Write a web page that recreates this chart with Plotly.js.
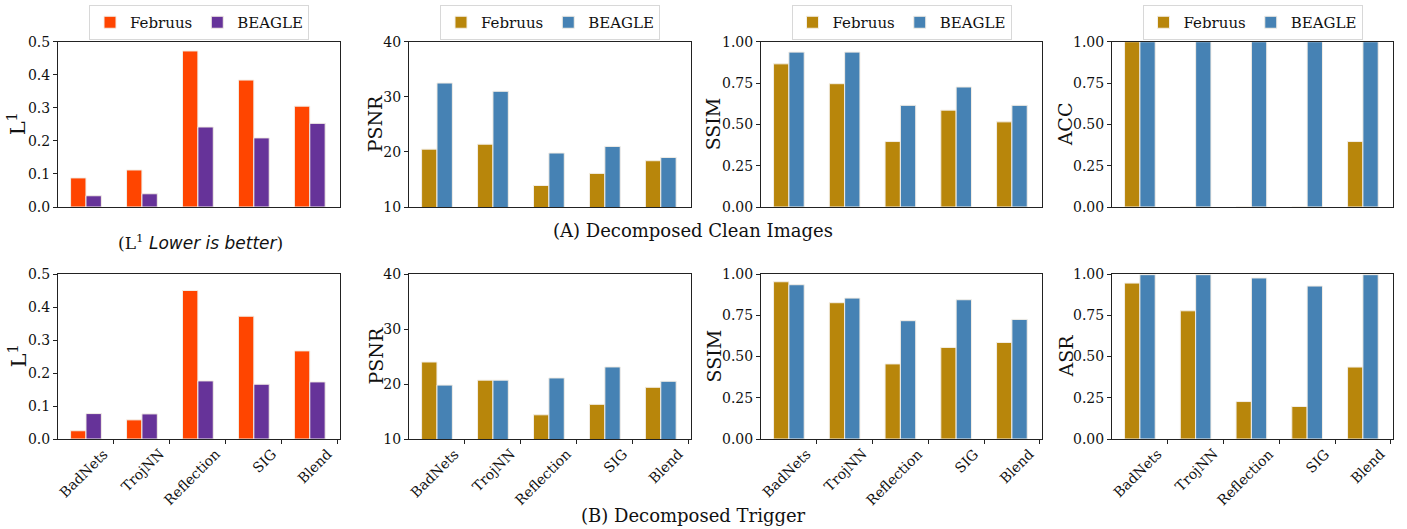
<!DOCTYPE html>
<html><head><meta charset="utf-8">
<script src="https://cdn.plot.ly/plotly-3.0.1.min.js"></script>
<style>html,body{margin:0;padding:0;background:#fff}</style>
</head><body><div id="chart" style="width:1407px;height:529px"></div>
<script>
const categories = ["BadNets", "TrojNN", "Reflection", "SIG", "Blend"];
const methods = ["Februus", "BEAGLE"];
// (A) Decomposed clean images
const cleanL1_Februus = [0.088, 0.112, 0.472, 0.384, 0.305];
const cleanL1_BEAGLE  = [0.034, 0.040, 0.242, 0.209, 0.253];
const cleanPSNR_Februus = [20.5, 21.4, 13.9, 16.1, 18.4];
const cleanPSNR_BEAGLE  = [32.5, 31.0, 19.8, 21.0, 19.0];
const cleanSSIM_Februus = [0.866, 0.746, 0.396, 0.586, 0.515];
const cleanSSIM_BEAGLE  = [0.937, 0.937, 0.615, 0.726, 0.615];
const cleanACC_Februus = [1.0, 0.0, 0.0, 0.0, 0.396];
const cleanACC_BEAGLE  = [1.0, 1.0, 1.0, 1.0, 1.0];
// (B) Decomposed trigger
const trigL1_Februus = [0.025, 0.058, 0.450, 0.372, 0.267];
const trigL1_BEAGLE  = [0.077, 0.076, 0.176, 0.166, 0.173];
const trigPSNR_Februus = [24.0, 20.7, 14.4, 16.3, 19.4];
const trigPSNR_BEAGLE  = [19.8, 20.7, 21.1, 23.1, 20.5];
const trigSSIM_Februus = [0.953, 0.826, 0.455, 0.555, 0.585];
const trigSSIM_BEAGLE  = [0.935, 0.854, 0.717, 0.844, 0.725];
const trigASR_Februus = [0.945, 0.777, 0.227, 0.197, 0.436];
const trigASR_BEAGLE  = [0.996, 0.996, 0.976, 0.927, 0.996];

const W = 1407, H = 529;
const FONT = "DejaVu Serif";
const colDom = [[58,340],[409,691],[761,1042],[1112,1393]];
const rowDom = [[41.7,207],[274,439]];
const colColors = [["#FF4500","#663399"],["#B8860B","#4682B4"],["#B8860B","#4682B4"],["#B8860B","#4682B4"]];
const panels = [
  [[cleanL1_Februus, cleanL1_BEAGLE],[cleanPSNR_Februus, cleanPSNR_BEAGLE],[cleanSSIM_Februus, cleanSSIM_BEAGLE],[cleanACC_Februus, cleanACC_BEAGLE]],
  [[trigL1_Februus, trigL1_BEAGLE],[trigPSNR_Februus, trigPSNR_BEAGLE],[trigSSIM_Februus, trigSSIM_BEAGLE],[trigASR_Februus, trigASR_BEAGLE]]
];
const yLabels = [["L<sup>1</sup>","PSNR","SSIM","ACC"],["L<sup>1</sup>","PSNR","SSIM","ASR"]];
const yRanges = [[0,0.5],[10,40],[0,1],[0,1]];
const yTicks = [[0,0.1,0.2,0.3,0.4,0.5],[10,20,30,40],[0,0.25,0.5,0.75,1],[0,0.25,0.5,0.75,1]];
const yFmt = [".1f","d",".2f",".2f"];
const yLabelX = [17, 375, 713, 1065];

const xIdx = categories.map((c,i)=>i);
const tickPos = categories.map((c,i)=>i+0.5);

const data = [];
const layout = {
  width: W, height: H, margin:{l:0,r:0,t:0,b:0},
  paper_bgcolor:"#fff", plot_bgcolor:"#fff",
  barmode:"group", bargap:0.45, bargroupgap:0.0,
  font:{family:FONT, size:14, color:"#111"},
  showlegend:true, annotations:[]
};
let n = 0;
for (let r=0;r<2;r++){
  for (let c=0;c<4;c++){
    n++;
    const xa = n===1?"x":"x"+n, ya = n===1?"y":"y"+n;
    const xk = n===1?"xaxis":"xaxis"+n, yk = n===1?"yaxis":"yaxis"+n;
    const legName = c===0?"legend":"legend"+(c+1);
    for (let m=0;m<2;m++){
      data.push({
        type:"bar", x:xIdx, y:panels[r][c][m], name:methods[m],
        xaxis:xa, yaxis:ya, legend:legName, showlegend:r===0,
        marker:{color:colColors[c][m], line:{color:"#f3eee6", width:1}}
      });
    }
    layout[xk] = {
      domain:[colDom[c][0]/W, colDom[c][1]/W], anchor:ya,
      range:[-0.5,4.54], showgrid:false, zeroline:false,
      showline:true, mirror:true, linecolor:"#222", linewidth:1,
      tickmode:"array", tickvals:tickPos,
      ticks: r===1?"outside":"", ticklen:4, tickcolor:"#222",
      showticklabels:false
    };
    layout[yk] = {
      domain:[1-rowDom[r][1]/H, 1-rowDom[r][0]/H], anchor:xa,
      range:yRanges[c], showgrid:false, zeroline:false,
      showline:true, mirror:true, linecolor:"#222", linewidth:1,
      tickmode:"array", tickvals:yTicks[c], tickformat:yFmt[c],
      ticks:"outside", ticklen:4, tickcolor:"#222",
      tickfont:{family:FONT, size:14, color:"#111"}
    };
    layout.annotations.push({
      xref:"paper", yref:"paper", x:yLabelX[c]/W, y:1-((rowDom[r][0]+rowDom[r][1])/2)/H,
      xanchor:"center", yanchor:"middle", textangle:-90, showarrow:false,
      text:yLabels[r][c], font:{family:FONT, size:c===0?21:19, color:"#111"}
    });
    if (r===1){
      categories.forEach((cat,i)=>{
        layout.annotations.push({
          xref:xa, yref:"paper", x:tickPos[i], y:1-443/H,
          xanchor:"right", yanchor:"top", textangle:-45, showarrow:false,
          text:cat, font:{family:FONT, size:14, color:"#111"}
        });
      });
    }
  }
}
for (let c=0;c<4;c++){
  const legName = c===0?"legend":"legend"+(c+1);
  layout[legName] = {
    orientation:"h", x:((colDom[c][0]+colDom[c][1])/2)/W, xanchor:"center",
    y:1-5/H, yanchor:"top", bgcolor:"#fff", bordercolor:"#d8d8d8", borderwidth:1,
    font:{family:FONT, size:15, color:"#111"}, itemwidth:30, traceorder:"normal"
  };
}
layout.annotations.push(
  {xref:"paper",yref:"paper",x:200/W,y:1-242/H,xanchor:"center",yanchor:"middle",showarrow:false,
   text:'(L<sup>1</sup> <span style="font-family:DejaVu Sans;font-style:italic">Lower is better</span>)',
   font:{family:FONT,size:17,color:"#111"}},
  {xref:"paper",yref:"paper",x:693/W,y:1-231/H,xanchor:"center",yanchor:"middle",showarrow:false,
   text:"(A) Decomposed Clean Images", font:{family:FONT,size:18,color:"#111"}},
  {xref:"paper",yref:"paper",x:693/W,y:1-515/H,xanchor:"center",yanchor:"middle",showarrow:false,
   text:"(B) Decomposed Trigger", font:{family:FONT,size:18,color:"#111"}}
);
Plotly.newPlot("chart", data, layout, {displayModeBar:false, staticPlot:true});
</script></body></html>
